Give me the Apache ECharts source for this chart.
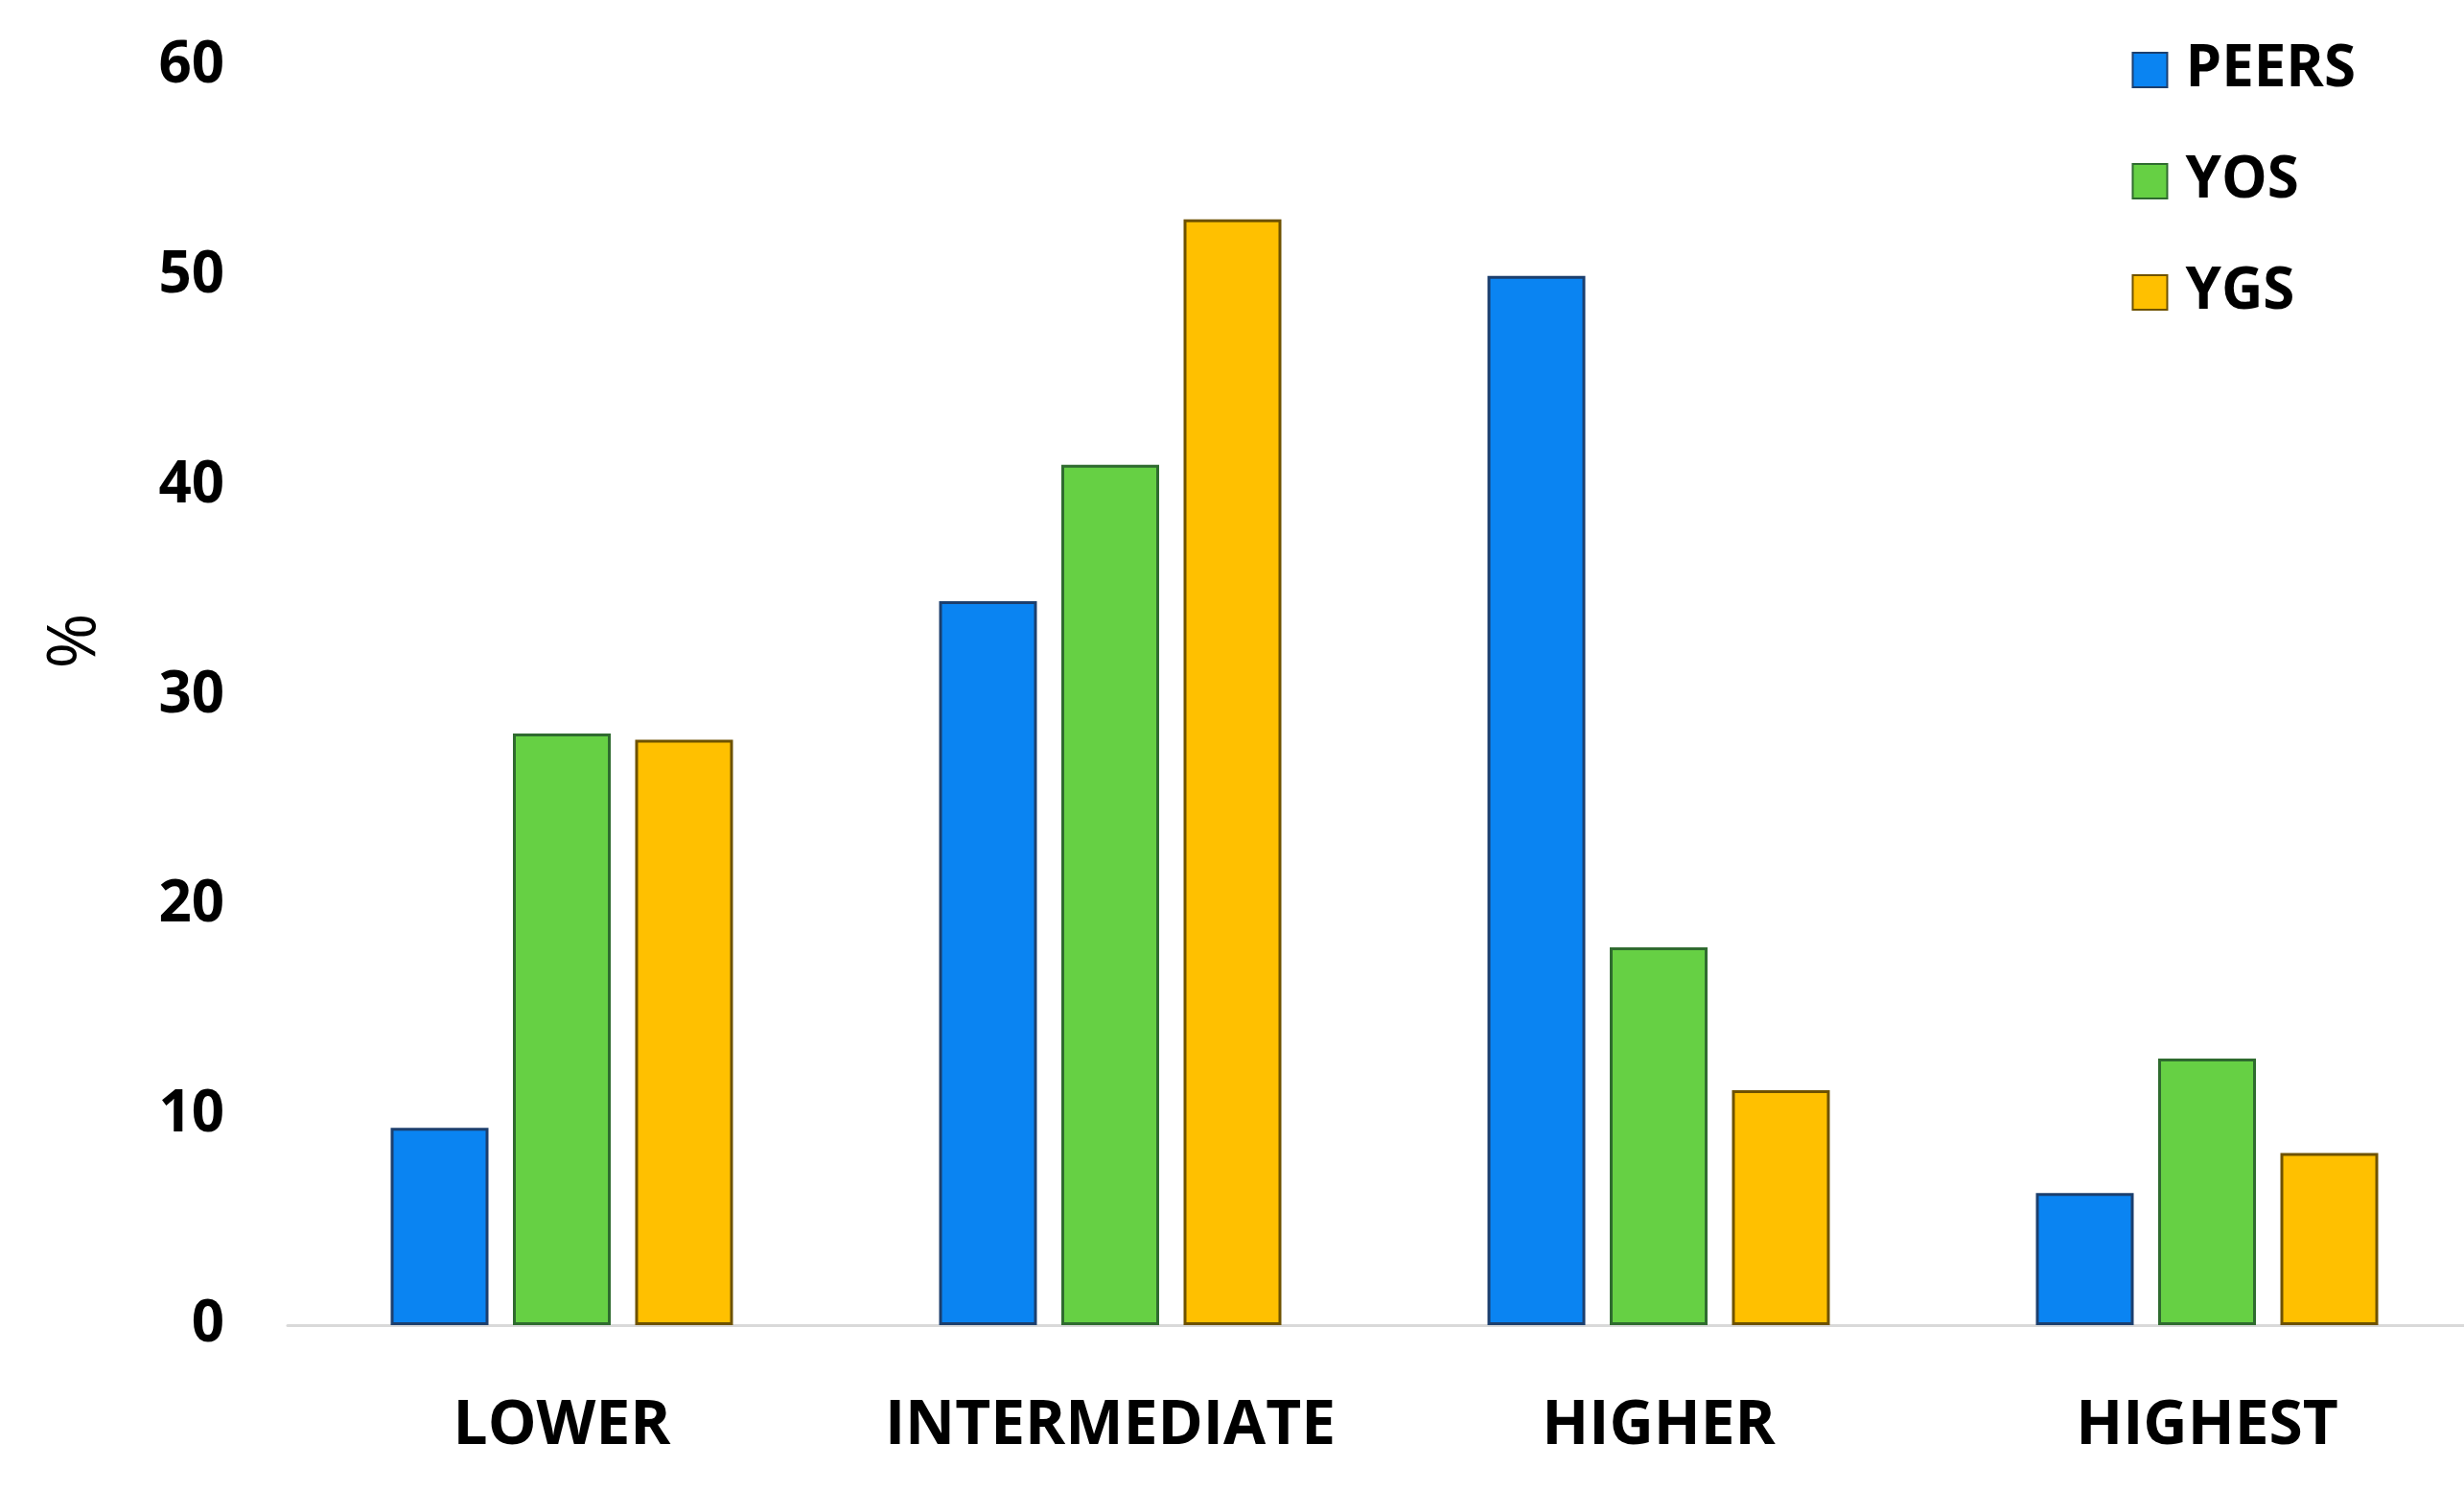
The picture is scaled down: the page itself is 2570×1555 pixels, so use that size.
<!DOCTYPE html>
<html>
<head>
<meta charset="utf-8">
<title>chart</title>
<script src="https://cdn.jsdelivr.net/npm/echarts@6/dist/echarts.min.js"></script>
<style>
    html, body {margin: 0; padding: 0; background: #fff;}
    #main {width: 2570px; height: 1555px;}
</style>
</head>
<body>
<div id="main"></div>
<script>
const categories = ['LOWER', 'INTERMEDIATE', 'HIGHER', 'HIGHEST'];
const peers = [9.4, 34.5, 50.0, 6.3];
const yos = [28.2, 41.0, 18.0, 12.7];
const ygs = [27.9, 52.7, 11.2, 8.2];
const yTicks = [0, 10, 20, 30, 40, 50, 60];

const font = '"Open Sans", "DejaVu Sans", sans-serif';

function bar(name, data, color, border) {
    return {
        name: name,
        type: 'bar',
        data: data,
        barWidth: 102,
        barGap: '25%',
        itemStyle: {
            color: color,
            borderColor: border,
            borderWidth: 3
        }
    };
}

// 初始化
const chart = echarts.init(document.getElementById('main'));
chart.setOption({
    animation: false,
    textStyle: {fontFamily: font},
    legend: {
        orient: 'vertical',
        right: 108,
        top: 38,
        itemWidth: 36,
        itemHeight: 36,
        itemGap: 56,
        icon: 'rect',
        data: ['PEERS', 'YOS', 'YGS'],
        textStyle: {fontSize: 60, fontWeight: 'bold', color: '#000', fontFamily: font, padding: [0, 0, 0, 14]}
    },
    grid: {
        left: 300,
        width: 2288,
        top: 69,
        bottom: 1555 - 1382,
        outerBoundsMode: 'none'
    },
    xAxis: {
        type: 'category',
        data: categories,
        axisLine: {lineStyle: {color: '#d9d9d9', width: 3}},
        axisTick: {show: false},
        axisLabel: {interval: 0, margin: 74, fontSize: 64, fontWeight: 'bold', color: '#000', fontFamily: font}
    },
    yAxis: {
        type: 'value',
        min: yTicks[0],
        max: yTicks[yTicks.length - 1],
        interval: 10,
        name: '%',
        nameLocation: 'middle',
        nameRotate: -90,
        nameGap: 196,
        nameTextStyle: {fontSize: 70, color: '#000', fontFamily: font, padding: [0, 114, 0, 0]},
        axisLine: {show: false},
        axisTick: {show: false},
        splitLine: {show: false},
        axisLabel: {margin: 66, fontSize: 60, fontWeight: 'bold', color: '#000', fontFamily: font}
    },
    series: [
        bar('PEERS', peers, '#0a84f2', '#1c3f6e'),
        bar('YOS', yos, '#66d044', '#2f6b2f'),
        bar('YGS', ygs, '#ffc000', '#6e5200')
    ]
});
</script>
</body>
</html>
